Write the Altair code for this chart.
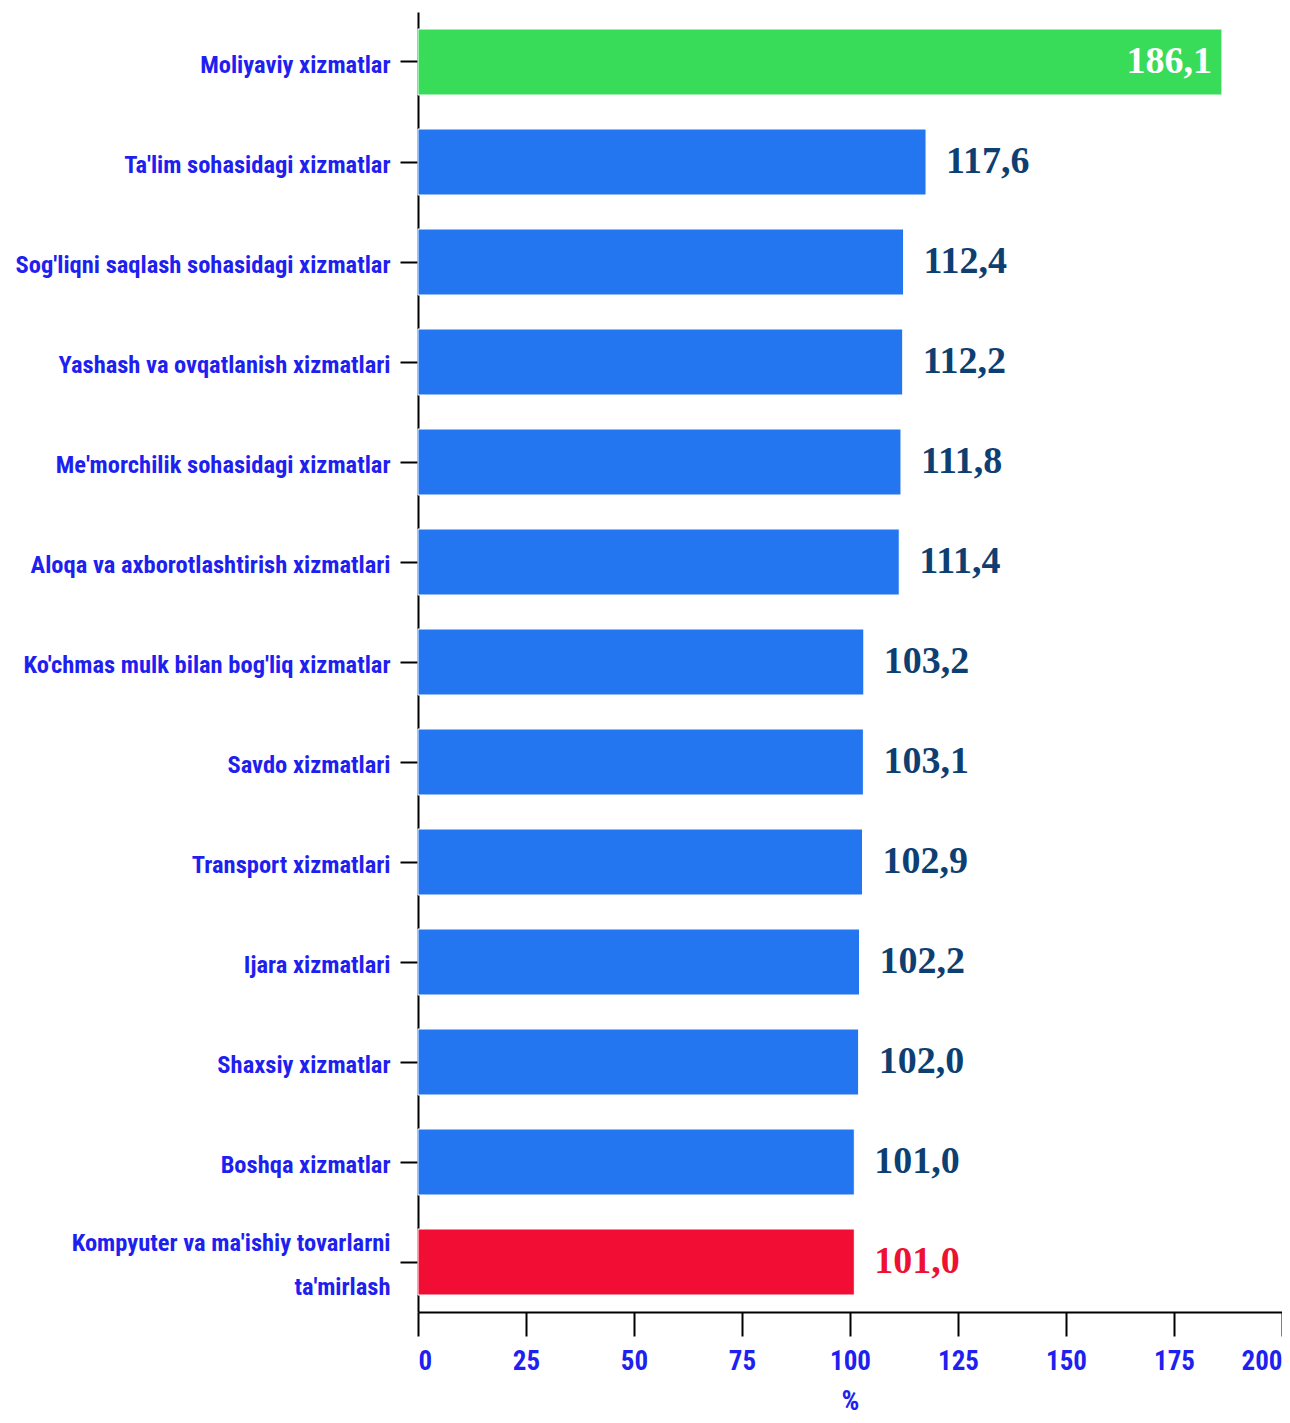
import altair as alt
import pandas as pd

categories = [
    "Moliyaviy xizmatlar",
    "Ta'lim sohasidagi xizmatlar",
    "Sog'liqni saqlash sohasidagi xizmatlar",
    "Yashash va ovqatlanish xizmatlari",
    "Me'morchilik sohasidagi xizmatlar",
    "Aloqa va axborotlashtirish xizmatlari",
    "Ko'chmas mulk bilan bog'liq xizmatlar",
    "Savdo xizmatlari",
    "Transport xizmatlari",
    "Ijara xizmatlari",
    "Shaxsiy xizmatlar",
    "Boshqa xizmatlar",
    "Kompyuter va ma'ishiy tovarlarni ta'mirlash",
]
values = [186.1, 117.6, 112.4, 112.2, 111.8, 111.4, 103.2, 103.1, 102.9, 102.2, 102.0, 101.0, 101.0]
labels = ["186,1", "117,6", "112,4", "112,2", "111,8", "111,4", "103,2", "103,1", "102,9", "102,2", "102,0", "101,0", "101,0"]
groups = ["top"] + ["mid"] * 11 + ["low"]

df = pd.DataFrame({"cat": categories, "val": values, "lab": labels, "grp": groups})

LABEL_FONT = "Liberation Sans Narrow, Roboto Condensed, DejaVu Sans Condensed, Roboto"
VALUE_FONT = "Liberation Serif"

y = alt.Y(
    "cat:N", sort=categories, title=None,
    scale=alt.Scale(paddingInner=0.34, paddingOuter=0.17),
    axis=alt.Axis(
        labelFont=LABEL_FONT, labelFontSize=24.5, labelFontWeight="bold", labelColor="#1F1FF0",
        labelPadding=10, tickSize=18, tickWidth=2, tickColor="#000000",
        labelOffset={"condition": {"test": "length(datum.value) > 40", "value": -18}, "value": 4},
        domainColor="#000000", domainWidth=2, labelLimit=500, labelLineHeight=44,
        labelExpr="length(datum.label) > 40 ? [slice(datum.label, 0, 32), slice(datum.label, 33)] : datum.label",
    ),
)
x = alt.X(
    "val:Q", title="%",
    scale=alt.Scale(domain=[0, 200], nice=False),
    axis=alt.Axis(
        values=[0, 25, 50, 75, 100, 125, 150, 175, 200], grid=False,
        labelFont=LABEL_FONT, labelFontSize=27, labelFontWeight="bold", labelColor="#1F1FF0",
        labelFlush=True, labelPadding=12, tickSize=24, tickWidth=2, tickColor="#000000",
        domainColor="#000000", domainWidth=2,
        titleFont=LABEL_FONT, titleFontSize=28, titleFontWeight="bold", titleColor="#1F1FF0",
        titlePadding=13,
    ),
)

color = alt.Color(
    "grp:N", legend=None,
    scale=alt.Scale(domain=["top", "mid", "low"], range=["#38DC58", "#2375F0", "#F20D35"]),
)

bars = alt.Chart(df).mark_bar(stroke="#FFFFFF", strokeWidth=1).encode(y=y, x=x, color=color)

txt_out = alt.Chart(df).transform_filter("datum.grp != 'top'").mark_text(
    align="left", baseline="middle", dx=20, font=VALUE_FONT, fontSize=38, fontWeight="bold"
).encode(
    y=alt.Y("cat:N", sort=categories),
    x=alt.X("val:Q"),
    text="lab:N",
    color=alt.Color("grp:N", legend=None,
                    scale=alt.Scale(domain=["top", "mid", "low"], range=["#FFFFFF", "#0E3F73", "#EE1133"])),
)

txt_in = alt.Chart(df).transform_filter("datum.grp == 'top'").mark_text(
    align="right", baseline="middle", dx=-10, font=VALUE_FONT, fontSize=38, fontWeight="bold", color="#FFFFFF"
).encode(
    y=alt.Y("cat:N", sort=categories),
    x=alt.X("val:Q"),
    text="lab:N",
)

chart = (
    alt.layer(bars, txt_out, txt_in)
    .resolve_scale(color="independent")
    .properties(
        width=864, height=1300,
        autosize=alt.AutoSizeParams(type="none"),
        padding={"left": 410, "top": 4, "right": 0, "bottom": 107},
        background="#FFFFFF",
    )
    .configure_view(stroke=None)
)

chart.save("out.html", embed_options={"renderer": "svg", "actions": False})
